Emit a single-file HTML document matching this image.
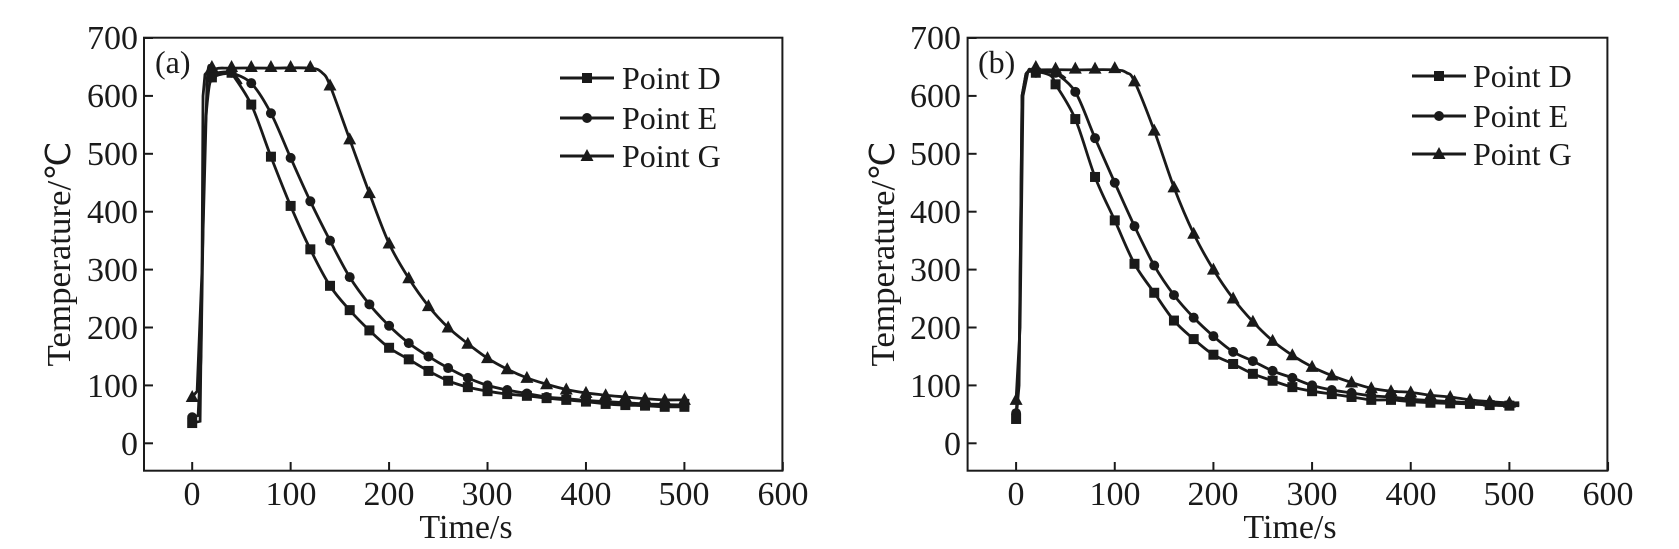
<!DOCTYPE html>
<html><head><meta charset="utf-8"><style>
html,body{margin:0;padding:0;background:#fff;}
svg{display:block;}
text{font-family:"Liberation Serif",serif;fill:#1a1a1a;}
</style></head><body>
<svg id="s" width="1679" height="549" viewBox="0 0 1679 549" xmlns="http://www.w3.org/2000/svg">
<g font-size="34" text-anchor="end">
<text x="138" y="49">700</text><text x="138" y="107">600</text><text x="138" y="165">500</text><text x="138" y="223">400</text><text x="138" y="281">300</text><text x="138" y="339">200</text><text x="138" y="397">100</text><text x="138" y="455">0</text>
<text x="961" y="49">700</text><text x="961" y="107">600</text><text x="961" y="165">500</text><text x="961" y="223">400</text><text x="961" y="281">300</text><text x="961" y="339">200</text><text x="961" y="397">100</text><text x="961" y="455">0</text>
</g>
<g font-size="34" text-anchor="middle">
<text x="192" y="505">0</text><text x="291" y="505">100</text><text x="389" y="505">200</text><text x="487" y="505">300</text><text x="586" y="505">400</text><text x="684" y="505">500</text><text x="783" y="505">600</text>
<text x="1016" y="505">0</text><text x="1115" y="505">100</text><text x="1213" y="505">200</text><text x="1312" y="505">300</text><text x="1411" y="505">400</text><text x="1509" y="505">500</text><text x="1608" y="505">600</text>
<text x="466" y="538">Time/s</text><text x="1290" y="538">Time/s</text>
<text transform="translate(70,254) rotate(-90)" textLength="225" lengthAdjust="spacingAndGlyphs">Temperature/℃</text>
<text transform="translate(894,254) rotate(-90)" textLength="225" lengthAdjust="spacingAndGlyphs">Temperature/℃</text>
</g>
<g font-size="32">
<text x="155" y="73">(a)</text><text x="978" y="73">(b)</text>
<text x="622" y="89">Point D</text><text x="622" y="129">Point E</text><text x="622" y="167">Point G</text>
<text x="1473" y="87">Point D</text><text x="1473" y="127">Point E</text><text x="1473" y="165">Point G</text>
</g>
<g id="g"></g>
</svg>
<script>
var g=document.getElementById('g'),h='';
function panel(L,R,x0,x500,D,E,G,lx,ly){
  var X=function(t){return x0+(x500-x0)*t/500},Y=function(v){return 443.3-v*0.579};
  h+='<rect x="'+L+'" y="37.7" width="'+(R-L)+'" height="433" fill="none" stroke="#1a1a1a" stroke-width="2"/>';
  for(var v=0;v<=700;v+=100)h+='<line x1="'+L+'" x2="'+(L+9)+'" y1="'+Y(v)+'" y2="'+Y(v)+'" stroke="#1a1a1a" stroke-width="2"/>';
  for(var t=0;t<=600;t+=100)h+='<line x1="'+X(t)+'" x2="'+X(t)+'" y1="470.7" y2="462" stroke="#1a1a1a" stroke-width="2"/>';
  [D,E,G].forEach(function(s,k){
    var tl=s.line;
    var p=tl.map(function(q){return [X(q[0]),Y(q[1])]});
    var d='M'+p[0][0]+','+p[0][1];
    for(var i=0;i<p.length-1;i++){
      if(tl[i+1][0]<=(s.lin||15)){d+=' L'+p[i+1];continue;}
      var a=p[i>0?i-1:0],b=p[i],c=p[i+1],e=p[i+2<p.length?i+2:i+1];
      var c1=[b[0]+(c[0]-a[0])/6,b[1]+(c[1]-a[1])/6],c2=[c[0]-(e[0]-b[0])/6,c[1]-(e[1]-b[1])/6];
      d+=' C'+c1+' '+c2+' '+c;}
    h+='<path d="'+d+'" fill="none" stroke="#1a1a1a" stroke-width="2.8"/>';
    s.pts.forEach(function(v,i){mk(k,X(i*20),Y(v));});
    var yy=ly[k];h+='<line x1="'+lx+'" x2="'+(lx+54)+'" y1="'+yy+'" y2="'+yy+'" stroke="#1a1a1a" stroke-width="3"/>';mk(k,lx+27,yy);
  });
}
function mk(k,x,y){
  if(k==0)h+='<rect x="'+(x-5)+'" y="'+(y-5)+'" width="10" height="10" fill="#1a1a1a"/>';
  else if(k==1)h+='<circle cx="'+x+'" cy="'+y+'" r="5" fill="#1a1a1a"/>';
  else h+='<polygon points="'+x+','+(y-7)+' '+(x-6.5)+','+(y+5)+' '+(x+6.5)+','+(y+5)+'" fill="#1a1a1a"/>';
}
function mkline(pts,pre){var l=pre.slice();for(var i=2;i<pts.length;i++)l.push([i*20,pts[i]]);return l;}
var aD=[35,632,640,585,495,410,335,272,230,195,165,145,125,108,97,90,85,82,78,75,72,68,66,65,63,63];
var aE=[45,632,640,622,570,493,418,350,287,240,203,173,150,130,113,100,92,86,80,77,74,72,70,68,67,66];
var aG=[80,650,650,650,650,650,650,618,525,432,345,285,237,200,172,147,128,113,102,93,87,83,80,77,75,75];
var aGl=[[0,80],[5,90],[10,300],[15,620],[22,645],[40,648],[80,648],[120,648],[132,640],[140,618]];for(var i=8;i<26;i++)aGl.push([i*20,aG[i]]);aGl.push([505,74]);
panel(144,782.4,192.2,684.4,
 {pts:aD,lin:13,line:mkline(aD,[[0,35],[8,38],[10,300],[11,600],[13,637],[25,640],[40,640],[50,620]]).concat([[505,63]])},
 {pts:aE,lin:12,line:mkline(aE,[[0,45],[6,48],[9,150],[12,480],[16,600],[22,632],[40,640]]).concat([[505,66]])},
 {pts:aG,lin:15,line:aGl},560,[78,118,156]);
var bD=[42,640,620,560,460,385,310,260,212,180,153,137,120,108,97,90,85,80,75,75,72,70,69,68,66,65];
var bE=[52,640,640,607,527,450,375,307,256,217,185,158,142,125,113,100,92,87,82,80,76,74,72,70,68,67];
var bG=[75,650,647,647,647,648,625,540,442,362,300,250,210,177,152,132,117,105,95,90,88,83,80,75,72,70];
var bGl=[[0,75],[4,200],[7,600],[12,642],[20,645],[60,645],[100,645],[112,640],[120,625]];for(var i=7;i<26;i++)bGl.push([i*20,bG[i]]);bGl.push([510,70]);
panel(967.6,1607.4,1016.1,1509.4,
 {pts:bD,lin:10,line:mkline(bD,[[0,42],[3,100],[6,600],[10,638],[20,642],[35,635],[40,620]]).concat([[510,65]])},
 {pts:bE,lin:10,line:mkline(bE,[[0,52],[3,120],[6,600],[10,638],[20,642],[40,640],[50,630]]).concat([[510,67]])},
 {pts:bG,lin:12,line:bGl},1412,[76,116,154]);
g.innerHTML=h;
</script>
</body></html>
